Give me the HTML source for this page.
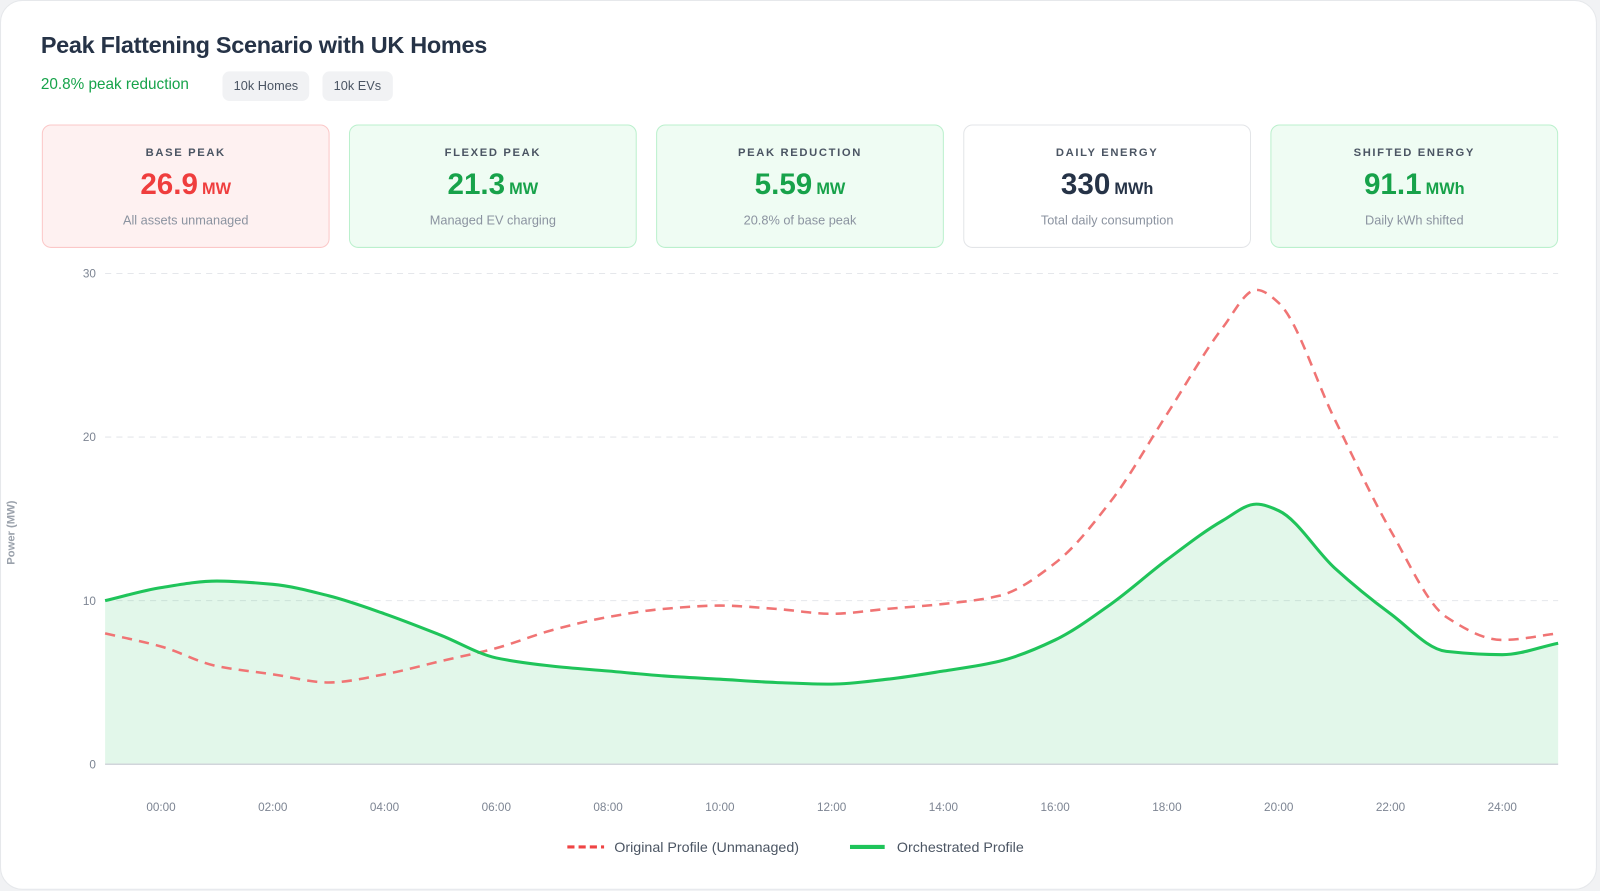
<!DOCTYPE html>
<html><head><meta charset="utf-8"><style>
html,body{margin:0;padding:0;width:1600px;height:891px;background:#f1f2f4;font-family:"Liberation Sans",sans-serif;overflow:hidden}
#wrap{position:absolute;left:0;top:0;width:1568px;height:873px;transform:scale(1.0204);transform-origin:0 0}
.card{position:absolute;left:0;top:0;width:1565px;height:872px;background:#fff;border-radius:22px;border:1px solid #e6e8eb;box-sizing:border-box}
h1{position:absolute;left:40px;top:31px;margin:0;font-size:23px;font-weight:700;color:#263347;letter-spacing:-0.3px}
.sub{position:absolute;left:40px;top:74px;font-size:15px;color:#16a34a}
.pill{position:absolute;top:70px;height:29px;line-height:29px;padding:0 11px;background:#f1f2f4;border-radius:7px;font-size:12.5px;color:#4b5563}
.stat{position:absolute;top:122px;width:282px;height:121px;box-sizing:border-box;border-radius:9px;text-align:center}
.stat .l{margin-top:21px;font-size:11px;font-weight:700;letter-spacing:1.6px;color:#4b5563}
.stat .v{margin-top:8px;font-size:29px;font-weight:700;line-height:34px}
.stat .v span{font-size:16px;margin-left:4px}
.stat .d{margin-top:6px;font-size:12.5px;color:#8b93a0}
.red{background:#fef1f1;border:1.5px solid #fbc8c8}.red .v{color:#ef3e3e}
.grn{background:#effcf3;border:1.5px solid #bbf0cd}.grn .v{color:#17a24a}
.wht{background:#fff;border:1.5px solid #e3e5e8}.wht .v{color:#263347}
svg{position:absolute;left:0;top:0}
</style></head><body>
<div id="wrap">
<div class="card"></div>
<h1>Peak Flattening Scenario with UK Homes</h1>
<div class="sub">20.8% peak reduction</div>
<div class="pill" style="left:218px">10k Homes</div>
<div class="pill" style="left:316px">10k EVs</div>
<div class="stat red" style="left:41px"><div class="l">BASE PEAK</div><div class="v">26.9<span>MW</span></div><div class="d">All assets unmanaged</div></div>
<div class="stat grn" style="left:342px"><div class="l">FLEXED PEAK</div><div class="v">21.3<span>MW</span></div><div class="d">Managed EV charging</div></div>
<div class="stat grn" style="left:643px"><div class="l">PEAK REDUCTION</div><div class="v">5.59<span>MW</span></div><div class="d">20.8% of base peak</div></div>
<div class="stat wht" style="left:944px"><div class="l">DAILY ENERGY</div><div class="v">330<span>MWh</span></div><div class="d">Total daily consumption</div></div>
<div class="stat grn" style="left:1245px"><div class="l">SHIFTED ENERGY</div><div class="v">91.1<span>MWh</span></div><div class="d">Daily kWh shifted</div></div>
<svg id="chart" width="1568" height="873"></svg>
</div>
<script>
const hours=[-1,0,1,2,3,4,5,6,7,8,9,10,11,12,13,14,15,16,17,18,19,19.6,20,21,22,23,24,25];
const original=[8.0,7.2,6.0,5.5,5.0,5.5,6.3,7.1,8.2,9.0,9.5,9.7,9.5,9.2,9.5,9.8,10.3,12.3,16.1,21.4,26.7,29.0,28.2,21.1,14.3,9.0,7.6,8.0];
const orchestrated=[10.0,10.8,11.2,11.0,10.3,9.2,7.9,6.5,6.0,5.7,5.4,5.2,5.0,4.9,5.2,5.7,6.3,7.6,9.8,12.5,14.9,15.9,15.5,12.0,9.2,6.9,6.7,7.4];
const yTicks=[0,10,20,30];
const xTicks=[0,2,4,6,8,10,12,14,16,18,20,22,24];
const xTickLabels=["00:00","02:00","04:00","06:00","08:00","10:00","12:00","14:00","16:00","18:00","20:00","22:00","24:00"];
const X0=103,X1=1527,Y0=749,Y30=268;
const xs=h=>X0+(h-(-1))/(26)*(X1-X0);
const ys=v=>Y0-v/30*(Y0-Y30);
const NS="http://www.w3.org/2000/svg";
const svg=document.getElementById('chart');
function mk(t,a){const e=document.createElementNS(NS,t);for(const k in a)e.setAttribute(k,a[k]);svg.appendChild(e);return e;}
function path(vals){
  const p=hours.map((h,i)=>[xs(h),ys(vals[i])]);const n=p.length;
  const d=[],m=[];
  for(let i=0;i<n-1;i++)d.push((p[i+1][1]-p[i][1])/(p[i+1][0]-p[i][0]));
  m[0]=d[0];m[n-1]=d[n-2];
  for(let i=1;i<n-1;i++){m[i]=(d[i-1]*d[i]<=0)?0:2/(1/d[i-1]+1/d[i]);}
  let s=`M${p[0][0]},${p[0][1]}`;
  for(let i=0;i<n-1;i++){const h=(p[i+1][0]-p[i][0])/3;s+=` C${p[i][0]+h},${p[i][1]+m[i]*h} ${p[i+1][0]-h},${p[i+1][1]-m[i+1]*h} ${p[i+1][0]},${p[i+1][1]}`;}
  return s;
}
yTicks.forEach(v=>{
  if(v>0){const g=mk('line',{x1:X0,x2:X1,y1:ys(v),y2:ys(v),stroke:'#e5e7eb','stroke-dasharray':'6 5','stroke-width':1});
  
  }
  const t=mk('text',{x:94,y:ys(v)+4,'text-anchor':'end','font-size':11.5,fill:'#7d8593','font-family':'Liberation Sans, sans-serif'});t.textContent=v;
  
  
});
xTicks.forEach((h,i)=>{
  const t=mk('text',{x:xs(h),y:795,'text-anchor':'middle','font-size':11.5,fill:'#7d8593','font-family':'Liberation Sans, sans-serif'});t.textContent=xTickLabels[i];
  
  
});
const yt=mk('text',{x:14,y:522,'text-anchor':'middle','font-size':11,'font-weight':700,fill:'#9aa1ab',transform:'rotate(-90 14 522)','font-family':'Liberation Sans, sans-serif'});yt.textContent='Power (MW)';


const gp=path(orchestrated);
const area=mk('path',{d:gp+` L${X1},${Y0} L${X0},${Y0} Z`,fill:'#22c55e','fill-opacity':0.13});


const ax=mk('line',{x1:X0,x2:X1,y1:Y0,y2:Y0,stroke:'#d1d5db','stroke-width':1.5});


const rl=mk('path',{d:path(original),fill:'none',stroke:'#f07474','stroke-width':2.5,'stroke-dasharray':'10 7'});


const gl=mk('path',{d:gp,fill:'none',stroke:'#1fc45a','stroke-width':3});


const l1=mk('line',{x1:556,x2:592,y1:830,y2:830,stroke:'#ef4444','stroke-width':3,'stroke-dasharray':'7 4'});


const t1=mk('text',{x:602,y:835,'font-size':14,fill:'#4b5563','font-family':'Liberation Sans, sans-serif'});t1.textContent='Original Profile (Unmanaged)';


const l2=mk('line',{x1:833,x2:867,y1:830,y2:830,stroke:'#1fc45a','stroke-width':4});


const t2=mk('text',{x:879,y:835,'font-size':14,fill:'#4b5563','font-family':'Liberation Sans, sans-serif'});t2.textContent='Orchestrated Profile';


</script>
</body></html>
